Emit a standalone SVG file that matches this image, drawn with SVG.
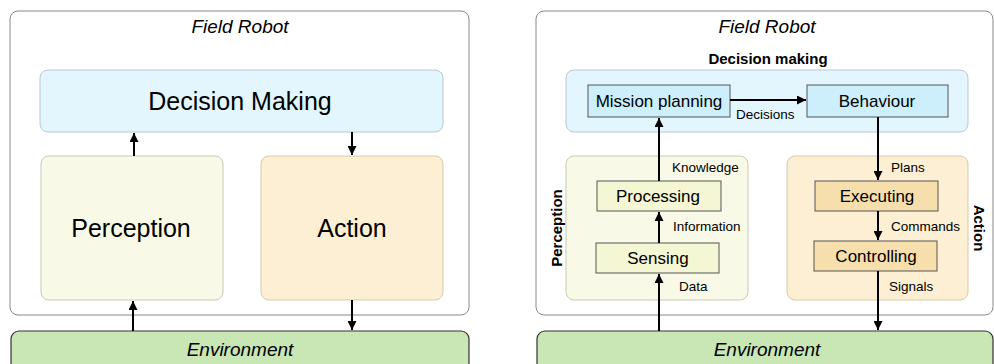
<svg xmlns="http://www.w3.org/2000/svg" width="994" height="364" viewBox="0 0 994 364">
<defs>
<marker id="ah" viewBox="0 0 10 10" refX="10" refY="5" markerWidth="4.5" markerHeight="4.5" orient="auto" markerUnits="strokeWidth">
<path d="M0,0 L10,5 L0,10 Z" fill="#000"/>
</marker>
</defs>
<style>
text{font-family:"Liberation Sans",Arial,sans-serif;fill:#000}
.outer{fill:#fff;stroke:#888;stroke-width:1}
.dec{fill:#e3f5fd;stroke:#b9c9d2;stroke-width:1}
.per{fill:#f8fae7;stroke:#c9cab4;stroke-width:1}
.act{fill:#fdefd4;stroke:#d9c9aa;stroke-width:1}
.env{fill:#c9e6b5;stroke:#333;stroke-width:1.2}
.ib{fill:#cdeefb;stroke:#555;stroke-width:1}
.ip{fill:#f4f6d4;stroke:#555;stroke-width:1}
.ia{fill:#f6dfac;stroke:#555;stroke-width:1}
.title{font-size:19px;font-style:italic;text-anchor:middle}
.big{font-size:25px;text-anchor:middle}
.mid{font-size:17px;text-anchor:middle}
.lab{font-size:13.5px}
.bold{font-size:15px;font-weight:bold;text-anchor:middle}
.c{stroke:#000;stroke-width:2;fill:none;marker-end:url(#ah)}
</style>

<!-- Left panel -->
<g id="left-robot">
<rect class="outer" x="10" y="11" width="459" height="304" rx="8"/>
<text class="title" x="240" y="33">Field Robot</text>
</g>
<g id="left-decision">
<rect class="dec" x="40" y="70" width="403" height="62" rx="8"/>
<text class="big" x="240" y="110">Decision Making</text>
</g>
<g id="left-perception">
<rect class="per" x="41" y="156" width="182" height="144" rx="8"/>
<text class="big" x="131" y="237">Perception</text>
</g>
<g id="left-action">
<rect class="act" x="261" y="156" width="182" height="144" rx="8"/>
<text class="big" x="352" y="237">Action</text>
</g>
<g id="left-environment">
<rect class="env" x="11" y="331" width="458" height="45" rx="8"/>
<text class="title" x="240" y="356">Environment</text>
</g>

<!-- Right panel -->
<g id="right-robot">
<rect class="outer" x="536" y="11" width="457" height="304" rx="8"/>
<text class="title" x="767" y="33">Field Robot</text>
</g>
<g id="right-decision">
<rect class="dec" x="566" y="70" width="402" height="62" rx="8"/>
<text class="bold" x="768" y="64">Decision making</text>
</g>
<g id="right-perception">
<rect class="per" x="566" y="156" width="182" height="144" rx="8"/>
<text class="bold" transform="translate(562,228) rotate(-90)" x="0" y="0">Perception</text>
</g>
<g id="right-action">
<rect class="act" x="787" y="156" width="181" height="144" rx="8"/>
<text class="bold" transform="translate(974,228) rotate(90)" x="0" y="0">Action</text>
</g>
<g id="mission">
<rect class="ib" x="588" y="85" width="142" height="32"/>
<text class="mid" x="659" y="107">Mission planning</text>
</g>
<g id="behaviour">
<rect class="ib" x="807" y="85" width="141" height="32"/>
<text class="mid" x="877" y="107">Behaviour</text>
</g>
<g id="processing">
<rect class="ip" x="597" y="181" width="124" height="30"/>
<text class="mid" x="658" y="202">Processing</text>
</g>
<g id="sensing">
<rect class="ip" x="596" y="243" width="123" height="30"/>
<text class="mid" x="658" y="264">Sensing</text>
</g>
<g id="executing">
<rect class="ia" x="815" y="181" width="123" height="30"/>
<text class="mid" x="877" y="202">Executing</text>
</g>
<g id="controlling">
<rect class="ia" x="814" y="241" width="123" height="30"/>
<text class="mid" x="876" y="262">Controlling</text>
</g>
<g id="right-environment">
<rect class="env" x="537" y="331" width="456" height="45" rx="8"/>
<text class="title" x="767" y="356">Environment</text>
</g>

<g id="connectors">
<line class="c" x1="134" y1="156" x2="134" y2="133"/>
<line class="c" x1="352" y1="132" x2="352" y2="155"/>
<line class="c" x1="133" y1="331" x2="133" y2="301"/>
<line class="c" x1="352" y1="300" x2="352" y2="330"/>

<line class="c" x1="730" y1="100" x2="806" y2="100"/>
<line class="c" x1="659" y1="331" x2="659" y2="274"/>
<line class="c" x1="659" y1="243" x2="659" y2="212"/>
<line class="c" x1="659" y1="181" x2="659" y2="118"/>
<line class="c" x1="878" y1="117" x2="878" y2="180"/>
<line class="c" x1="878" y1="211" x2="878" y2="240"/>
<line class="c" x1="878" y1="271" x2="878" y2="330"/>

<text class="lab" x="736" y="119">Decisions</text>
<text class="lab" x="672" y="172">Knowledge</text>
<text class="lab" x="673" y="231">Information</text>
<text class="lab" x="679" y="291">Data</text>
<text class="lab" x="891" y="172">Plans</text>
<text class="lab" x="891" y="231">Commands</text>
<text class="lab" x="889" y="291">Signals</text>
</g>
</svg>
